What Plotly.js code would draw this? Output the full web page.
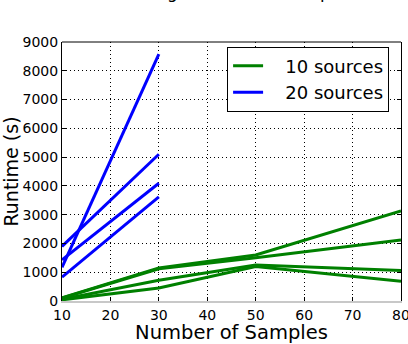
<!DOCTYPE html>
<html>
<head>
<meta charset="utf-8">
<script src="https://cdn.plot.ly/plotly-3.0.1.min.js"></script>
<style>html,body{margin:0;padding:0;background:#fff;}#chart{width:408px;height:344px;}</style>
</head>
<body>
<div id="chart"></div>
<script>
// ---- data ----
const samplesGreen = [10, 30, 50, 80];
const green1 = [110, 1150, 1600, 3130];
const green2 = [100, 1120, 1500, 2120];
const green3 = [60, 720, 1250, 1060];
const green4 = [40, 450, 1200, 690];

const samplesBlue = [10, 30];
const blue1 = [1170, 8580];
const blue2 = [1900, 5100];
const blue3 = [1430, 4090];
const blue4 = [830, 3620];

const xTicks = [10, 20, 30, 40, 50, 60, 70, 80];
const yTicks = [0, 1000, 2000, 3000, 4000, 5000, 6000, 7000, 8000, 9000];
const legendNames = ["10 sources", "20 sources"];
const titleText = "Running time (s) vs. samples";

const GREEN = "#008000", BLUE = "#0000ff";
const NB = "\u00a0\u00a0\u00a0";
const traces = [];
[green1, green2, green3, green4].forEach((ys, i) => traces.push({
  x: samplesGreen, y: ys, mode: "lines", type: "scatter",
  line: {color: GREEN, width: 3}, name: NB + legendNames[0], legendgroup: "g",
  showlegend: i === 0, hoverinfo: "skip"
}));
[blue1, blue2, blue3, blue4].forEach((ys, i) => traces.push({
  x: samplesBlue, y: ys, mode: "lines", type: "scatter",
  line: {color: BLUE, width: 3}, name: NB + legendNames[1], legendgroup: "b",
  showlegend: i === 0, hoverinfo: "skip"
}));

const font = "DejaVu Sans, sans-serif";
const layout = {
  width: 408, height: 344,
  margin: {l: 62, r: 7, t: 42, b: 43, pad: 0},
  paper_bgcolor: "#fff", plot_bgcolor: "#fff",
  font: {family: font, color: "#000", size: 14},
  title: {text: titleText, font: {family: font, size: 17, color: "#000"},
          xref: "paper", x: 0.5, xanchor: "center", yref: "container", y: 1.0, yanchor: "bottom", pad: {b: 2}},
  showlegend: true,
  legend: {x: 0.487, y: 0.982, xanchor: "left", yanchor: "top",
           bgcolor: "#fff", bordercolor: "#000", borderwidth: 1,
           font: {family: font, size: 18}, itemwidth: 30, tracegroupgap: 0},
  xaxis: {range: [10, 80], tickvals: xTicks, ticktext: xTicks.map(String),
          showgrid: true, gridcolor: "#000", griddash: "1px,3px", gridwidth: 1,
          zeroline: false, showline: true, linecolor: "#c8c8c8", linewidth: 2,
          ticks: "inside", ticklen: 4, tickcolor: "#000", ticklabeloverflow: "allow",
          tickfont: {family: font, size: 14},
          title: {text: "Number of Samples", font: {family: font, size: 19.5}, standoff: 5}},
  yaxis: {range: [0, 9000], tickvals: yTicks, ticktext: yTicks.map(String),
          showgrid: true, gridcolor: "#000", griddash: "1px,3px", gridwidth: 1,
          zeroline: false, showline: true, linecolor: "#000", linewidth: 1, mirror: "ticks",
          ticks: "inside", ticklen: 4, tickcolor: "#000", ticklabeloverflow: "allow",
          tickfont: {family: font, size: 14},
          title: {text: "Runtime (s)", font: {family: font, size: 19}, standoff: 4}},
  shapes: [
    {type: "line", xref: "paper", yref: "paper", x0: 0, x1: 1, y0: 1, y1: 1, line: {color: "#000", width: 1}}
  ]
};
Plotly.newPlot("chart", traces, layout, {staticPlot: true, displayModeBar: false});
</script>
</body>
</html>
